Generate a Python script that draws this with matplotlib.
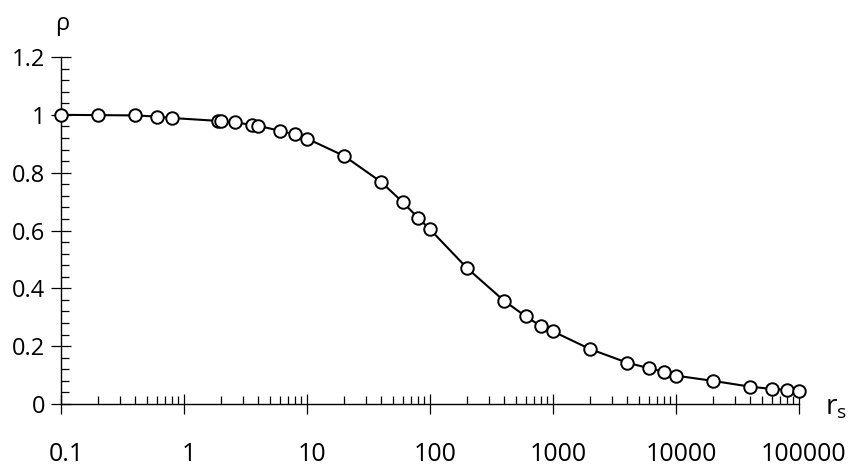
import matplotlib.pyplot as plt
from matplotlib.ticker import FixedLocator, LogLocator, NullFormatter
from matplotlib.transforms import ScaledTranslation

plt.rcParams["font.family"] = ["Open Sans", "DejaVu Sans"]

# r_s values and density ratio
rs = [0.1, 0.2, 0.4, 0.6, 0.8, 1.9, 2, 2.6, 3.6, 4, 6, 8, 10, 20, 40, 60, 80,
      100, 200, 400, 600, 800, 1000, 2000, 4000, 6000, 8000, 10000, 20000,
      40000, 60000, 80000, 100000]
rho = [1.0, 0.999, 0.998, 0.994, 0.989, 0.979, 0.977, 0.974, 0.965, 0.962,
       0.945, 0.932, 0.918, 0.858, 0.768, 0.698, 0.644, 0.604, 0.470, 0.357,
       0.303, 0.269, 0.251, 0.190, 0.143, 0.124, 0.111, 0.098, 0.080, 0.060,
       0.052, 0.049, 0.045]

x_ticks = [0.1, 1, 10, 100, 1000, 10000, 100000]
x_labels = ["0.1", "1", "10", "100", "1000", "10000", "100000"]
y_ticks = [0, 0.2, 0.4, 0.6, 0.8, 1.0, 1.2]
y_labels = ["0", "0.2", "0.4", "0.6", "0.8", "1", "1.2"]

fig = plt.figure(figsize=(8.61, 4.70), dpi=100)
ax = fig.add_axes([61 / 861, 66 / 470, 738 / 861, 347 / 470])

ax.plot(rs, rho, "-o", color="black", lw=1.5, ms=9, mfc="white",
        mec="black", mew=1.4, clip_on=False, zorder=3)

ax.set_xscale("log")
ax.set_xlim(0.1, 100000)
ax.set_ylim(0, 1.2)

ax.xaxis.set_major_locator(FixedLocator(x_ticks))
ax.set_xticklabels(x_labels)
ax.xaxis.set_minor_locator(LogLocator(base=10, subs=range(2, 10), numticks=20))
ax.xaxis.set_minor_formatter(NullFormatter())
ax.set_yticks(y_ticks)
ax.set_yticklabels(y_labels)
ax.yaxis.set_minor_locator(FixedLocator([i * 0.04 for i in range(31)]))

for s in ["top", "right"]:
    ax.spines[s].set_visible(False)
for s in ["left", "bottom"]:
    ax.spines[s].set_linewidth(1.0)

ax.tick_params(which="major", direction="inout", length=15, width=0.9)
ax.tick_params(which="minor", direction="in", length=6, width=0.9)
ax.tick_params(axis="x", which="major", pad=20, labelsize=18)
ax.tick_params(axis="y", which="major", pad=4, labelsize=17)

# the reference's x labels sit a little right of their ticks
shift = ScaledTranslation(5 / 100, 0, fig.dpi_scale_trans)
for lab in ax.get_xticklabels():
    lab.set_transform(lab.get_transform() + shift)

ax.text(0.001, 1.06, "ρ", transform=ax.transAxes, fontsize=17,
        ha="center", va="bottom")
fig.text(825 / 861, (470 - 407) / 470, r"r$_\mathregular{s}$", fontsize=20,
         ha="left", va="center")

fig.savefig("out.png", dpi=100)
